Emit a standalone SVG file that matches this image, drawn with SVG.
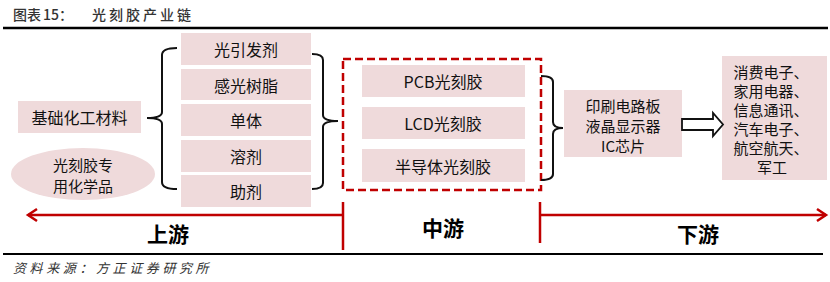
<svg xmlns="http://www.w3.org/2000/svg" width="830" height="282" viewBox="0 0 830 282">
<defs>
<style>
.box{fill:#EFDADB;}
.t{font-family:"Noto Sans CJK SC","Liberation Sans",sans-serif;font-size:16px;fill:#111;text-anchor:middle;dominant-baseline:central;}
.s{font-size:15px;}
.b{font-family:"Noto Sans CJK SC","Liberation Sans",sans-serif;font-size:21px;font-weight:bold;fill:#000;text-anchor:middle;dominant-baseline:central;}
.brace{fill:none;stroke:#111;stroke-width:2;}
.red{fill:none;stroke:#C00000;stroke-width:2.5;}
.title{font-family:"Noto Sans CJK SC","Liberation Serif",serif;font-size:14px;fill:#333;font-weight:500;}
.src{font-family:"Noto Sans CJK SC","Liberation Serif",serif;font-size:13px;font-style:italic;fill:#333;letter-spacing:3.6px;}
</style>
</defs>

<g id="title">
<text class="title" x="13" y="20">图表</text>
<text class="title" x="43" y="20">15：</text>
<text class="title" x="92" y="20" letter-spacing="3">光刻胶产业链</text>
<line x1="3" y1="28" x2="828" y2="28" stroke="#000" stroke-width="2.5"/>
</g>

<g id="n-jichu">
<rect class="box" x="18" y="101" width="123" height="32"/>
<text class="t" x="79.5" y="117">基础化工材料</text>
</g>
<g id="n-zhuanyong">
<ellipse cx="83" cy="174" rx="72" ry="26" fill="#EFDADB"/>
<text class="t s" x="83" y="164">光刻胶专</text>
<text class="t s" x="83" y="185">用化学品</text>
</g>

<g id="n-guangyinfa"><rect class="box" x="181" y="33" width="130" height="32"/><text class="t" x="246" y="49">光引发剂</text></g>
<g id="n-ganguang"><rect class="box" x="181" y="69" width="130" height="31"/><text class="t" x="246" y="84.5">感光树脂</text></g>
<g id="n-danti"><rect class="box" x="181" y="104" width="130" height="32"/><text class="t" x="246" y="120">单体</text></g>
<g id="n-rongji"><rect class="box" x="181" y="140" width="130" height="32"/><text class="t" x="246" y="156">溶剂</text></g>
<g id="n-zhuji"><rect class="box" x="181" y="175" width="130" height="32"/><text class="t" x="246" y="191">助剂</text></g>

<g id="n-mid">
<rect x="343" y="59" width="198" height="131" fill="none" stroke="#C00000" stroke-width="2.5" stroke-dasharray="8,4"/>
</g>
<g id="n-pcb"><rect class="box" x="362" y="65" width="163" height="32"/><text class="t" x="443" y="81">PCB光刻胶</text></g>
<g id="n-lcd"><rect class="box" x="362" y="107" width="163" height="32"/><text class="t" x="443" y="123">LCD光刻胶</text></g>
<g id="n-semi"><rect class="box" x="362" y="149" width="163" height="33"/><text class="t" x="443" y="165.5">半导体光刻胶</text></g>

<g id="n-app">
<rect class="box" x="564" y="90" width="118" height="67"/>
<text class="t s" x="623" y="105">印刷电路板</text>
<text class="t s" x="623" y="125">液晶显示器</text>
<text class="t s" x="623" y="145">IC芯片</text>
</g>

<g id="n-down">
<rect class="box" x="722" y="56" width="105" height="124"/>
<text class="t s" x="771" y="71">消费电子、</text>
<text class="t s" x="771" y="90">家用电器、</text>
<text class="t s" x="771" y="109">信息通讯、</text>
<text class="t s" x="771" y="128">汽车电子、</text>
<text class="t s" x="771" y="147">航空航天、</text>
<text class="t s" x="772" y="166">军工</text>
</g>

<g id="connectors">
<path class="brace" d="M177,48 Q162,48 162,55 L162,112 Q162,118 147,118 Q162,118 162,124 L162,182 Q162,189 177,189"/>
<path class="brace" d="M312,54 Q323,54 323,60 L323,115 Q323,121 338,121 Q323,121 323,127 L323,183 Q323,189 312,189"/>
<path class="brace" d="M541,76 Q553,76 553,82 L553,122 Q553,128 563,128 Q553,128 553,134 L553,174 Q553,180 541,180"/>
<polygon points="682,119 713,119 713,113 723,124.5 713,136 713,130 682,130" fill="#fff" stroke="#111" stroke-width="1.8"/>
<line class="red" x1="28" y1="215" x2="343" y2="215"/>
<polyline class="red" points="37,209 28,215 37,221"/>
<line class="red" x1="343" y1="202" x2="343" y2="250"/>
<line class="red" x1="540" y1="202" x2="540" y2="243"/>
<line class="red" x1="540" y1="215" x2="826" y2="215"/>
<polyline class="red" points="817,209 826,215 817,221"/>
</g>

<g id="labels">
<text class="b" x="168" y="233">上游</text>
<text class="b" x="443" y="227">中游</text>
<text class="b" x="698" y="233">下游</text>
</g>

<g id="footer">
<line x1="3" y1="254" x2="823" y2="254" stroke="#000" stroke-width="2"/>
<text class="src" x="13" y="273">资料来源：方正证券研究所</text>
</g>
</svg>
